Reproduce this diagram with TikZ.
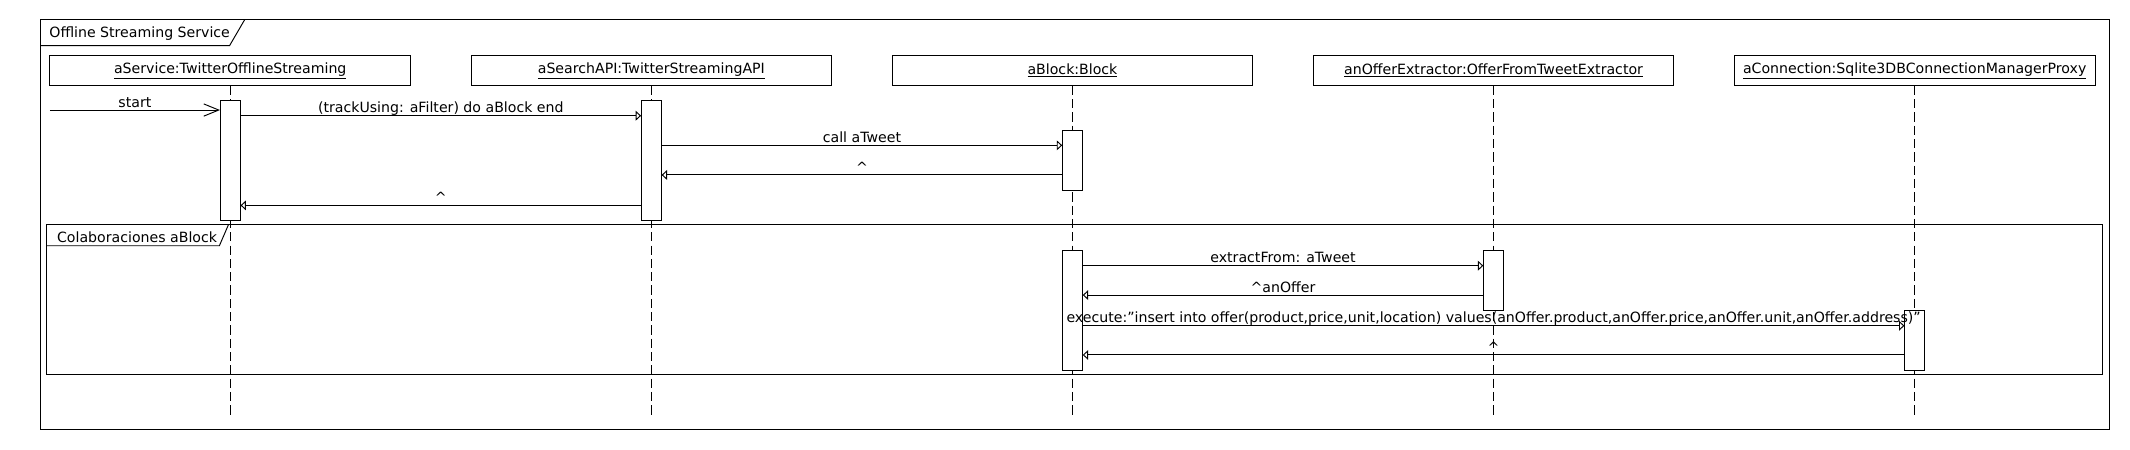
\documentclass[tikz,border=0pt]{standalone}
\usepackage{fontspec}
\setmainfont{DejaVu Sans}
\usetikzlibrary{arrows.meta}

\tikzset{
  head/.style={draw, minimum width=13.275cm, minimum height=1.08cm, inner sep=0pt},
  act/.style={draw, fill=white, anchor=north, minimum width=0.72cm, inner sep=0pt},
  lifeline/.style={dash pattern=on 0.34cm off 0.15cm},
  msg/.style={-{Triangle[open, length=0.2cm, width=0.36cm]}},
  found/.style={-{Straight Barb[length=0.55cm, width=0.45cm]}},
  lbl/.style={midway, anchor=base, yshift=3pt, inner sep=0pt},
  tab/.style={anchor=base west, inner sep=0pt}
}

\begin{document}
\begin{tikzpicture}[x=0.05cm, y=-0.05cm, line width=1pt, font=\fontsize{14.8}{17}\selectfont]
            \useasboundingbox (0, 0) rectangle (1568, 331);

            % Frames
            \draw (29.7, 14.7) rectangle (1552.8, 315.8);
            \node[tab] at (36, 27.5) (mainT) {Offline Streaming Service};
            \draw (29.7, 33.6) -- (169, 33.6) -- (180, 14.7);
            \draw (34.3, 165.6) rectangle (1547.6, 276);
            \node[tab] at (41.7, 178.5) (collabT) {Colaboraciones aBlock};
            \draw (34.3, 180.9) -- (161.5, 180.9) -- (168.1, 165.6);

            % Nodes
            \node[head] at (169.5, 52) (svc) {\underline{aService:TwitterOfflineStreaming}};
            \node[head] at (479.5, 52) (api) {\underline{aSearchAPI:TwitterStreamingAPI}};
            \node[head] at (789.5, 52) (blk) {\underline{aBlock:Block}};
            \node[head] at (1099.5, 52) (ext) {\underline{anOfferExtractor:OfferFromTweetExtractor}};
            \node[head] at (1409.5, 52) (con) {\underline{aConnection:Sqlite3DBConnectionManagerProxy}};

            % Lifelines
            \coordinate (llend) at (0, 305.5);
            \foreach \o in {svc, api, blk, ext, con}
                \draw[lifeline] (\o.south) -- (\o.south |- llend);

            % Activations
            \node[act, minimum height=4.43cm] at (svc.south |- 0, 73.6) (svcA) {};
            \node[act, minimum height=4.43cm] at (api.south |- 0, 73.6) (apiA) {};
            \node[act, minimum height=2.21cm] at (blk.south |- 0, 95.9) (blkA) {};
            \node[act, minimum height=4.43cm] at (blk.south |- 0, 184) (blkB) {};
            \node[act, minimum height=2.21cm] at (ext.south |- 0, 184) (extA) {};
            \node[act, minimum height=2.22cm] at (con.south |- 0, 228.2) (conA) {};

            % Edges
            \coordinate (src) at (36.7, 81);
            \draw[found] (src) -- (src -| svcA.west) node[lbl] {start};
            \draw[msg] (svcA.east |- 0, 85.2) -- (apiA.west |- 0, 85.2) node[lbl] {(trackUsing: aFilter) do aBlock end};
            \draw[msg] (apiA.east |- 0, 107) -- (blkA.west |- 0, 107) node[lbl] {call aTweet};
            \draw[msg] (blkA.west |- 0, 128.8) -- (apiA.east |- 0, 128.8) node[lbl] {\textasciicircum};
            \draw[msg] (apiA.west |- 0, 151.2) -- (svcA.east |- 0, 151.2) node[lbl] {\textasciicircum};
            \draw[msg] (blkB.east |- 0, 195.6) -- (extA.west |- 0, 195.6) node[lbl] {extractFrom: aTweet};
            \draw[msg] (extA.west |- 0, 217.2) -- (blkB.east |- 0, 217.2) node[lbl] {\textasciicircum anOffer};
            \draw[msg] (blkB.east |- 0, 239.8) -- (conA.west |- 0, 239.8) node[lbl] {execute:"insert into offer(product,price,unit,location) values(anOffer.product,anOffer.price,anOffer.unit,anOffer.address)"};
            \draw[msg] (conA.west |- 0, 261.3) -- (blkB.east |- 0, 261.3) node[lbl] {\textasciicircum};
        \end{tikzpicture}
\end{document}
